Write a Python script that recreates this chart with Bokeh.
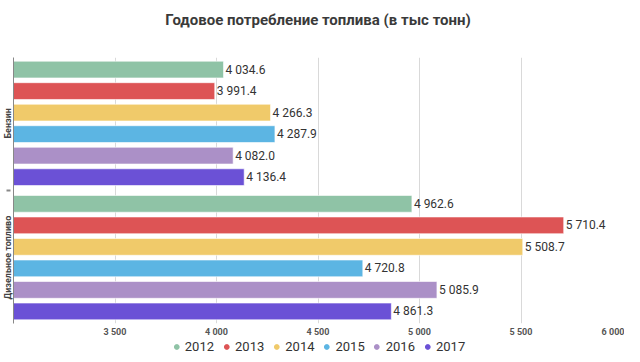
from bokeh.plotting import figure
from bokeh.layouts import column
from bokeh.models import (FactorRange, Range1d, ColumnDataSource, Legend, LegendItem,
                          FixedTicker, Label)
from bokeh.core.properties import value
from bokeh.embed import file_html
from bokeh.resources import INLINE

title_text = "Годовое потребление топлива (в тыс тонн)"
categories = ["Бензин", "Дизельное топливо"]
years = ["2012", "2013", "2014", "2015", "2016", "2017"]
benzin = [4034.6, 3991.4, 4266.3, 4287.9, 4082.0, 4136.4]
diesel = [4962.6, 5710.4, 5508.7, 4720.8, 5085.9, 4861.3]
colors = ["#8fc3a6", "#dd5455", "#f0ca6a", "#5cb5e3", "#ab90c7", "#6b51d6"]
x_ticks = [3500, 4000, 4500, 5000, 5500, 6000]
x_min, x_max = 3000, 6000

series = {"Бензин": benzin, "Дизельное топливо": diesel}

W = 624

# ---- title strip ----
tf = figure(width=W, height=28, output_backend="svg", toolbar_location=None,
            x_range=Range1d(0, 1), y_range=Range1d(0, 28),
            min_border=0, x_axis_type=None, y_axis_type=None)
tf.outline_line_color = None
tf.xgrid.grid_line_color = None
tf.ygrid.grid_line_color = None
tf.add_layout(Label(x=0.5, y=9, text=title_text, text_align="center", text_baseline="middle",
                    text_font="Roboto", text_font_size="15px", text_font_style="bold",
                    text_color="#3a3a3a"))

# ---- main chart ----
factors = []
for cat in reversed(categories):
    for yr in reversed(years):
        factors.append((cat, yr))

p = figure(width=W, height=311, output_backend="svg", toolbar_location=None,
           y_range=FactorRange(*factors, factor_padding=0.0, group_padding=0.24, range_padding=0.01),
           x_range=Range1d(x_min, x_max),
           min_border_left=0, min_border_right=2, min_border_top=29, min_border_bottom=0)

ys, rights, cols, labels, yrs = [], [], [], [], []
for cat in categories:
    for i, yr in enumerate(years):
        v = series[cat][i]
        ys.append((cat, yr))
        rights.append(v)
        cols.append(colors[i])
        labels.append(f"{v:,.1f}".replace(",", " "))
        yrs.append(yr)

src = ColumnDataSource(dict(y=ys, right=rights, color=cols, label=labels, year=yrs))
p.hbar(y="y", left=x_min, right="right", height=0.78, source=src,
       fill_color="color", line_color="white", line_alpha=0.6, line_width=1)
p.text(x="right", y="y", text="label", source=src, x_offset=2,
       text_font=value("Roboto"), text_font_size="12px", text_color="#333333",
       text_baseline="middle", text_align="left")

p.xaxis.ticker = FixedTicker(ticks=x_ticks)
p.xaxis.major_label_overrides = {t: f"{t:,}".replace(",", " ") for t in x_ticks}
p.xaxis.major_label_text_font = "Roboto"
p.xaxis.major_label_text_font_size = "9px"
p.xaxis.major_label_text_font_style = "bold"
p.xaxis.major_label_text_color = "#555555"
p.xaxis.axis_line_color = None
p.xaxis.major_tick_line_color = None
p.xaxis.major_tick_out = 0
p.xaxis.major_tick_in = 0
p.xaxis.minor_tick_line_color = None
p.xaxis.major_label_standoff = 3

p.yaxis.major_label_text_font_size = "1px"
p.yaxis.major_label_text_color = None
p.yaxis.major_label_standoff = 0
p.yaxis.major_tick_line_color = None
p.yaxis.major_tick_out = 0
p.yaxis.minor_tick_line_color = None
p.yaxis.axis_line_color = "#888888"
p.yaxis.group_text_font = "Roboto"
p.yaxis.group_text_font_size = "9px"
p.yaxis.group_text_color = "#444444"
p.yaxis.separator_line_color = "#888888"

p.xgrid.grid_line_color = "#d9d9d9"
p.ygrid.grid_line_color = None
p.outline_line_color = None

# ---- legend strip ----
lg = figure(width=W, height=14, output_backend="svg", toolbar_location=None,
            x_range=Range1d(0, 1), y_range=Range1d(0, 1),
            min_border=0, x_axis_type=None, y_axis_type=None)
lg.outline_line_color = None
lg.xgrid.grid_line_color = None
lg.ygrid.grid_line_color = None
items = []
for i, yr in enumerate(years):
    r = lg.scatter(x=[-5], y=[-5], marker="circle", size=9,
                   fill_color=colors[i], line_color=colors[i])
    items.append(LegendItem(label=yr, renderers=[r]))
legend = Legend(items=items, orientation="horizontal", location="center",
                label_text_font="Roboto", label_text_font_size="13px", label_text_color="#333333",
                border_line_color=None, background_fill_alpha=0, spacing=6,
                glyph_width=12, glyph_height=12, label_standoff=3, padding=0, margin=0)
lg.add_layout(legend, "center")

layout = column(tf, p, lg, spacing=0)
open("out.html", "w").write(file_html(layout, INLINE))
